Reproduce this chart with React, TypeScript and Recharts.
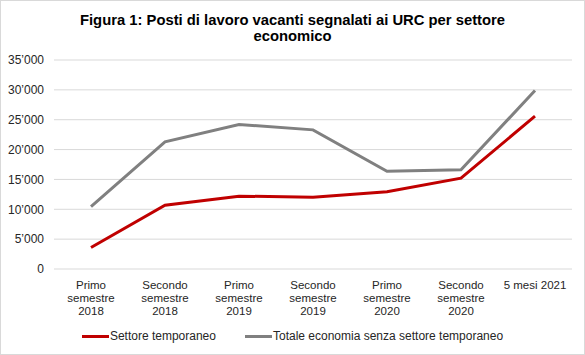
import { CartesianGrid, Line, LineChart, XAxis, YAxis } from "recharts";

const periods = [
  "Primo\nsemestre\n2018",
  "Secondo\nsemestre\n2018",
  "Primo\nsemestre\n2019",
  "Secondo\nsemestre\n2019",
  "Primo\nsemestre\n2020",
  "Secondo\nsemestre\n2020",
  "5 mesi 2021",
];
const temporaneo = [3600, 10670, 12200, 12020, 12950, 15220, 25590];
const totaleSenza = [10450, 21300, 24200, 23300, 16380, 16600, 29900];
const yTicks = [0, 5000, 10000, 15000, 20000, 25000, 30000, 35000];

const seriesNames = ["Settore temporaneo", "Totale economia senza settore temporaneo"];
const RED = "#C00000";
const GRAY = "#808080";
const FONT = "'Liberation Sans', Arial, sans-serif";

const data = periods.map((p, i) => ({ period: p, temp: temporaneo[i], totale: totaleSenza[i] }));

const fmt = (v: number) => (v === 0 ? "0" : `${Math.floor(v / 1000)}’${String(v % 1000).padStart(3, "0")}`);

function PeriodTick(props: any) {
  const { x, y, payload } = props;
  const lines = String(payload.value).split("\n");
  return (
    <text x={x} y={y + 17.5} textAnchor="middle" fontSize={11.5} fill="#262626" fontFamily={FONT}>
      {lines.map((l, i) => (
        <tspan key={i} x={x} dy={i === 0 ? 0 : 13.3}>
          {l}
        </tspan>
      ))}
    </text>
  );
}

function ChartLegend() {
  const colors = [RED, GRAY];
  return (
    <div
      style={{
        position: "absolute",
        top: 328,
        left: 0,
        width: 585,
        display: "flex",
        justifyContent: "center",
        gap: 29,
        fontFamily: FONT,
        fontSize: 12,
        lineHeight: "16px",
        color: "#262626",
      }}
    >
      {seriesNames.map((n, i) => (
        <div key={n} style={{ display: "flex", alignItems: "center" }}>
          <span style={{ display: "inline-block", width: 27, height: 3, background: colors[i], marginRight: 1 }} />
          <span>{n}</span>
        </div>
      ))}
    </div>
  );
}

export default function App() {
  return (
    <div style={{ position: "absolute", left: 0, top: 0, width: 585, height: 355, background: "#fff" }}>
      <div
        style={{
          position: "absolute",
          top: 12,
          left: 0,
          width: 585,
          textAlign: "center",
          fontFamily: FONT,
          fontWeight: "bold",
          fontSize: 14.8,
          lineHeight: "16px",
          color: "#000",
        }}
      >
        Figura 1: Posti di lavoro vacanti segnalati ai URC per settore
        <br />
        economico
      </div>
      <LineChart width={585} height={355} data={data} margin={{ top: 60, right: 13, left: 0, bottom: 56 }}>
        <CartesianGrid stroke="#d9d9d9" vertical={false} />
        <XAxis
          dataKey="period"
          height={30}
          axisLine={false}
          tickLine={false}
          tickSize={0}
          tick={<PeriodTick />}
          interval={0}
          padding={{ left: 37, right: 37 }}
        />
        <YAxis
          width={54}
          domain={[0, 35000]}
          ticks={yTicks}
          tickFormatter={fmt}
          axisLine={false}
          tickLine={false}
          tickSize={0}
          tickMargin={10}
          tick={{ fontSize: 12, fill: "#262626", fontFamily: FONT }}
        />
        <Line dataKey="temp" name={seriesNames[0]} stroke={RED} strokeWidth={3} dot={false} isAnimationActive={false} />
        <Line dataKey="totale" name={seriesNames[1]} stroke={GRAY} strokeWidth={3} dot={false} isAnimationActive={false} />
      </LineChart>
      <ChartLegend />
      <div
        style={{
          position: "absolute",
          left: 0,
          top: 0,
          width: 585,
          height: 355,
          boxSizing: "border-box",
          border: "1px solid #d9d9d9",
          pointerEvents: "none",
        }}
      />
    </div>
  );
}
